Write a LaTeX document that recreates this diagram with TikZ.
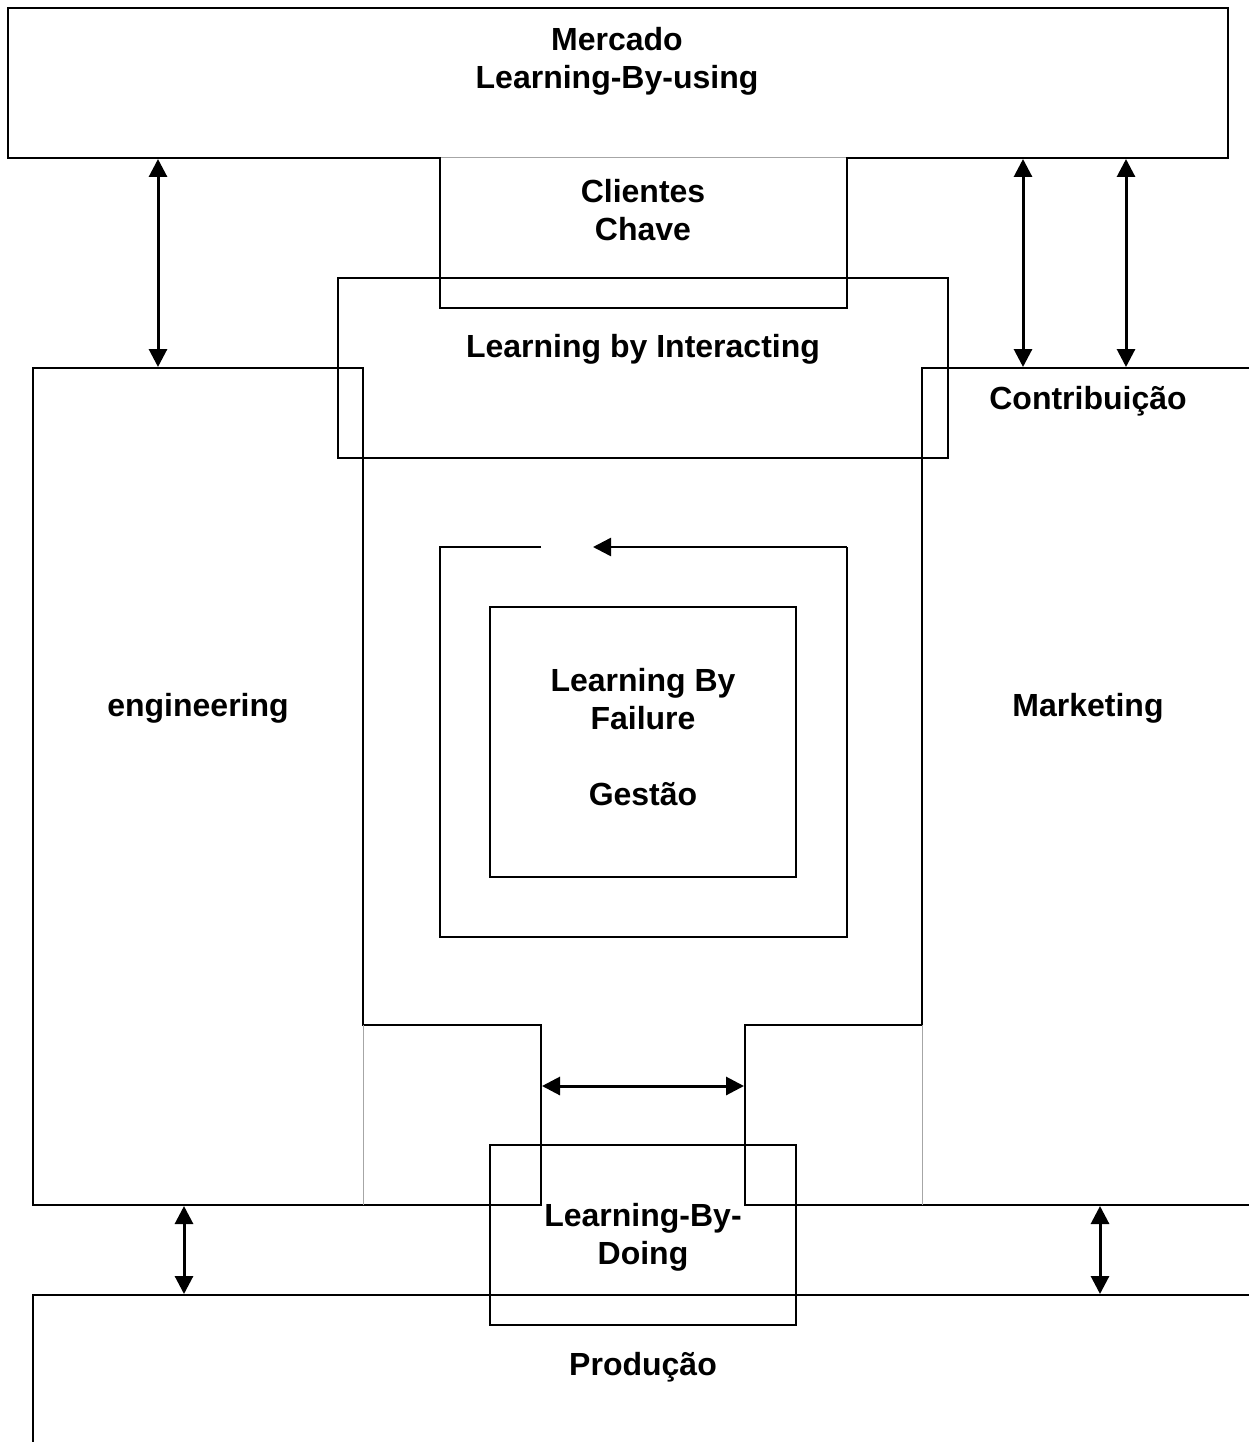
\documentclass[tikz,border=0pt]{standalone}
\usepackage{fontspec}
\setmainfont{Liberation Sans}
\usetikzlibrary{arrows.meta}
\begin{document}
\begin{tikzpicture}[x=1pt,y=-1pt,
  edge/.style={line width=2pt, line join=miter},
  faint/.style={line width=1pt, draw=black!35},
  lbl/.style={font=\fontsize{32}{38}\selectfont\bfseries, align=center, inner sep=0pt},
  dbl/.style={line width=3pt, {Triangle[length=18pt,width=18pt]}-{Triangle[length=18pt,width=18pt]}},
  single/.style={line width=2.5pt, -{Triangle[length=18pt,width=18pt]}}
]
\useasboundingbox (0,0) rectangle (1249,1442);
\fill[white] (0,0) rectangle (1249,1442);

% Mercado box
\draw[edge] (8,8) rectangle (1228,158);
\draw[white, line width=3pt] (441,158) -- (846,158);
\draw[faint] (441,158) -- (846,158);
% Clientes Chave box
\draw[edge] (440,158) -- (440,308) -- (847,308) -- (847,158);
% Learning by Interacting box
\draw[edge] (338,278) rectangle (948,458);

% engineering region
\draw[edge] (363,368) -- (33,368) -- (33,1205) -- (541,1205) -- (541,1025) -- (363,1025) -- cycle;
% marketing region
\draw[edge] (1249,368) -- (922,368) -- (922,1025) -- (745,1025) -- (745,1205) -- (1249,1205);
\draw[faint] (363,1025) -- (363,1205);
\draw[faint] (922,1025) -- (922,1205);

% spiral
\coordinate (sp0) at (541,547);
\coordinate (sp1) at (440,547);
\coordinate (sp2) at (440,937);
\coordinate (sp3) at (847,937);
\coordinate (sp4) at (847,547);
\coordinate (sp5) at (593,547);
\draw[edge] (sp0) -- (sp1) -- (sp2) -- (sp3) -- (sp4);
\draw[single] (sp4) -- (sp5);

% inner box
\draw[edge] (490,607) rectangle (796,877);

% Learning-By-Doing box
\draw[edge] (490,1145) rectangle (796,1325);

% Producao
\draw[edge] (1249,1295) -- (33,1295) -- (33,1442);

% texts
\node[lbl] (mercado) at (617,61) {Mercado\\Learning-By-using};
\node[lbl] (clientes) at (643,210) {Clientes\\Chave};
\node[lbl] (interact) at (643,349) {Learning by Interacting};
\node[lbl] (contrib) at (1088,401) {Contribuição};
\node[lbl] (eng) at (198,708) {engineering};
\node[lbl] (mkt) at (1088,708) {Marketing};
\node[lbl] (failure) at (643,737) {Learning By\\Failure\\[38pt]Gestão};
\node[lbl] (doing) at (643,1237) {Learning-By-\\Doing};
\node[lbl] (prod) at (643,1367) {Produção};

% arrow end points
\coordinate (a1t) at (158,159);
\coordinate (a1b) at (158,367);
\coordinate (a2t) at (1023,159);
\coordinate (a2b) at (1023,367);
\coordinate (a3t) at (1126,159);
\coordinate (a3b) at (1126,367);
\coordinate (a4t) at (184,1206);
\coordinate (a4b) at (184,1294);
\coordinate (a5t) at (1100,1206);
\coordinate (a5b) at (1100,1294);
\coordinate (a6l) at (542,1086);
\coordinate (a6r) at (744,1086);

\draw[dbl] (a1t) -- (a1b);
\draw[dbl] (a2t) -- (a2b);
\draw[dbl] (a3t) -- (a3b);
\draw[dbl] (a4t) -- (a4b);
\draw[dbl] (a5t) -- (a5b);
\draw[dbl] (a6l) -- (a6r);
\end{tikzpicture}
\end{document}
